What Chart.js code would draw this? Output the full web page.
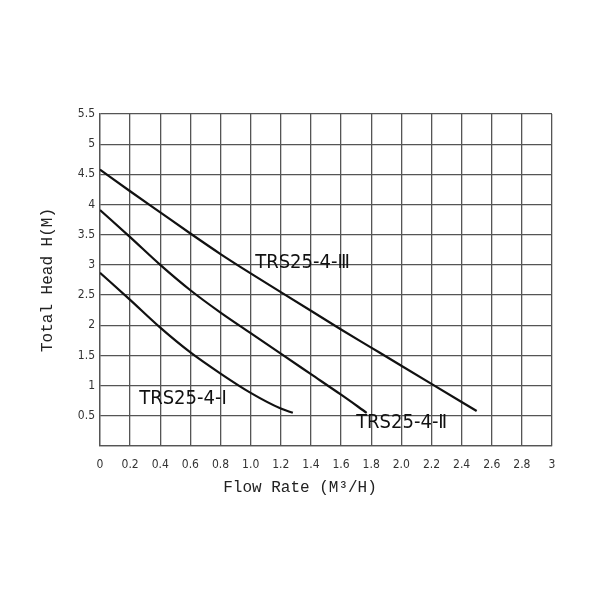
<!DOCTYPE html>
<html>
<head>
<meta charset="utf-8">
<script src="https://cdn.jsdelivr.net/npm/chart.js@4/dist/chart.umd.min.js"></script>
<style>
  html, body { margin: 0; padding: 0; background: #fff; }
  #wrap { width: 600px; height: 600px; }
</style>
</head>
<body>
<div id="wrap"><canvas id="pumpChart"></canvas></div>
<script>
// Pump curves (flow M3/H -> head M)
const flowI = [0, 0.2, 0.4, 0.6, 0.8, 1.0, 1.2, 1.28];
const headI = [2.87, 2.42, 1.96, 1.55, 1.20, 0.88, 0.62, 0.55];

const flowII = [0, 0.2, 0.4, 0.6, 0.8, 1.0, 1.2, 1.4, 1.6, 1.77];
const headII = [3.91, 3.46, 3.0, 2.58, 2.21, 1.87, 1.53, 1.19, 0.85, 0.55];

const flowIII = [0, 0.2, 0.4, 0.6, 0.8, 1.0, 1.2, 1.4, 1.6, 1.8, 2.0, 2.2, 2.4, 2.5];
const headIII = [4.58, 4.22, 3.87, 3.52, 3.18, 2.86, 2.55, 2.24, 1.93, 1.63, 1.33, 1.03, 0.73, 0.58];

const seriesNames = ["TRS25-4-Ⅰ", "TRS25-4-Ⅱ", "TRS25-4-Ⅲ"];

const xTickLabels = ["0", "0.2", "0.4", "0.6", "0.8", "1.0", "1.2", "1.4", "1.6", "1.8",
  "2.0", "2.2", "2.4", "2.6", "2.8", "3"];
const yTickLabels = ["", "0.5", "1", "1.5", "2", "2.5", "3", "3.5", "4", "4.5", "5", "5.5"];

const xTitle = "Flow Rate (M³/H)";
const yTitle = "Total Head H(M)";

// where the curve names sit (data coords, left / middle)
const namePos = [[0.26, 0.79], [1.70, 0.38], [1.03, 3.03]];

function toPoints(xs, ys) {
  return xs.map((x, i) => ({ x: x, y: ys[i] }));
}

function makeSet(label, xs, ys) {
  return {
    label: label,
    data: toPoints(xs, ys),
    borderColor: "#111",
    borderWidth: 2.2,
    pointRadius: 0,
    fill: false,
    cubicInterpolationMode: "monotone",
  };
}

const curveNames = {
  id: "curveNames",
  afterDatasetsDraw(chart) {
    const ctx = chart.ctx;
    const xs = chart.scales.x;
    const ys = chart.scales.y;
    ctx.save();
    ctx.fillStyle = "#111";
    ctx.font = "20px 'DejaVu Sans Condensed', 'DejaVu Sans'";
    ctx.textAlign = "left";
    ctx.textBaseline = "middle";
    seriesNames.forEach((name, i) => {
      ctx.fillText(name, xs.getPixelForValue(namePos[i][0]), ys.getPixelForValue(namePos[i][1]));
    });

    // x axis title is centred on the page, not on the plot
    ctx.fillStyle = "#222";
    ctx.font = "16px 'Liberation Mono', monospace";
    ctx.textAlign = "center";
    ctx.fillText(xTitle, chart.width / 2, 488);
    ctx.restore();
  },
};

const gridColor = "#555";
const tickFont = { family: "'DejaVu Sans Condensed', 'DejaVu Sans'", size: 12 };

new Chart(document.getElementById("pumpChart").getContext("2d"), {
  type: "line",
  data: {
    datasets: [
      makeSet(seriesNames[0], flowI, headI),
      makeSet(seriesNames[1], flowII, headII),
      makeSet(seriesNames[2], flowIII, headIII),
    ],
  },
  options: {
    responsive: true,
    maintainAspectRatio: false,
    animation: false,
    layout: { padding: { top: 114, right: 48, bottom: 94, left: 0 } },
    plugins: {
      legend: { display: false },
      tooltip: { enabled: false },
    },
    scales: {
      x: {
        type: "linear",
        min: 0,
        max: 3,
        afterBuildTicks(scale) {
          scale.ticks = xTickLabels.map((t, i) => ({ value: i * 0.2 }));
        },
        afterFit(scale) { scale.height = 60; },
        ticks: {
          color: "#333",
          font: tickFont,
          padding: 12,
          maxRotation: 0,
          autoSkip: false,
          callback: (v, i) => xTickLabels[i],
        },
        grid: { color: gridColor, lineWidth: 1.3, drawTicks: false },
        border: { color: gridColor, width: 1.3 },
        title: { display: false },
      },
      y: {
        type: "linear",
        min: 0,
        max: 5.5,
        afterBuildTicks(scale) {
          scale.ticks = yTickLabels.map((t, i) => ({ value: i * 0.5 }));
        },
        afterFit(scale) { scale.width = 100; },
        ticks: {
          color: "#333",
          font: tickFont,
          padding: 5,
          autoSkip: false,
          callback: (v, i) => yTickLabels[i],
        },
        grid: { color: gridColor, lineWidth: 1.3, drawTicks: false },
        border: { color: gridColor, width: 1.3 },
        title: {
          display: true,
          text: yTitle,
          color: "#222",
          font: { family: "'Liberation Mono', monospace", size: 16 },
          padding: { top: 38, bottom: 0 },
        },
      },
    },
  },
  plugins: [curveNames],
});
</script>
</body>
</html>
